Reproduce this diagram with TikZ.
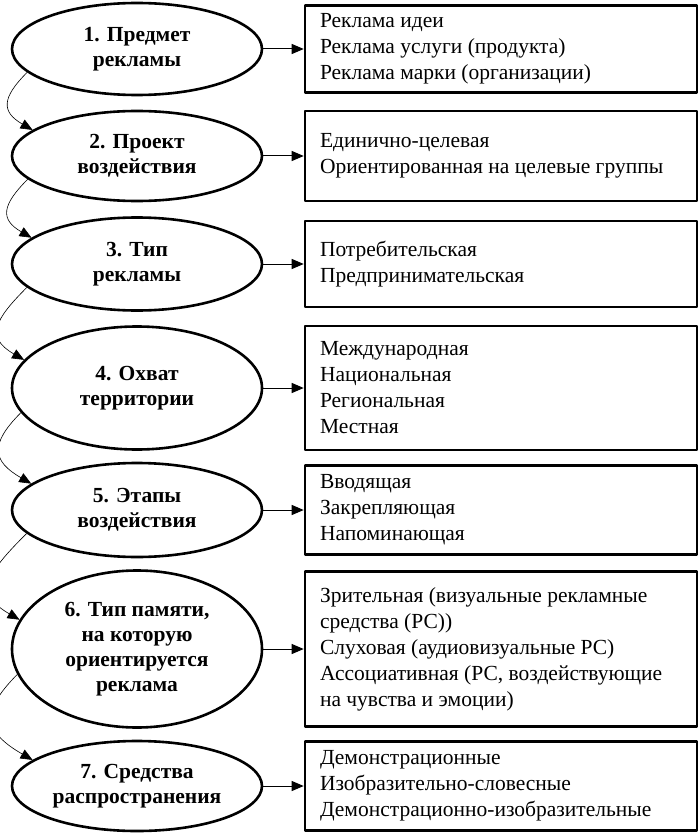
\documentclass[tikz,border=0pt]{standalone}
\usepackage{fontspec}
\setmainfont{Liberation Serif}
\usetikzlibrary{shapes.geometric,arrows.meta}
\tikzset{
  oval/.style={ellipse, draw, line width=2.6pt, minimum width=250pt, inner sep=0pt, align=center, font=\fontsize{21.5}{25}\selectfont\bfseries},
  kind/.style={draw, line width=2.6pt, minimum width=392pt, inner xsep=15pt, text width=362pt, align=flush left, font=\fontsize{21.5}{26}\selectfont},
  link/.style={line width=0.6pt}
}
\begin{document}
\begin{tikzpicture}[x=1pt, y=1pt, line join=round, >={Triangle[length=12pt,width=10pt]}]
\useasboundingbox (0,0) rectangle (700,-837);
\node[oval, minimum height=92pt] (e1) at (137,-49) {1. Предмет\\рекламы};
\node[oval, minimum height=90pt] (e2) at (137,-156) {2. Проект\\воздействия};
\node[oval, minimum height=93pt] (e3) at (137,-264) {3. Тип\\рекламы};
\node[oval, minimum height=123pt] (e4) at (137,-388) {4. Охват\\территории};
\node[oval, minimum height=94pt] (e5) at (137,-510) {5. Этапы\\воздействия};
\node[oval, minimum height=157pt] (e6) at (137,-649) {6. Тип памяти,\\на которую\\ориентируется\\реклама};
\node[oval, minimum height=90pt] (e7) at (137,-786) {7. Средства\\распространения};
\node[kind, minimum height=87pt] (b1) at (501,-49) {Реклама идеи\\Реклама услуги (продукта)\\Реклама марки (организации)};
\node[kind, minimum height=90pt] (b2) at (501,-156) {Единично-целевая\\Ориентированная на целевые группы};
\node[kind, minimum height=86pt] (b3) at (501,-264) {Потребительская\\Предпринимательская};
\node[kind, minimum height=124pt] (b4) at (501,-388) {Международная\\Национальная\\Региональная\\Местная};
\node[kind, minimum height=89pt] (b5) at (501,-510) {Вводящая\\Закрепляющая\\Напоминающая};
\node[kind, minimum height=155pt] (b6) at (501,-649) {Зрительная (визуальные рекламные\\средства (РС))\\Слуховая (аудиовизуальные РС)\\Ассоциативная (РС, воздействующие\\на чувства и эмоции)};
\node[kind, minimum height=89pt] (b7) at (501,-786) {Демонстрационные\\Изобразительно-словесные\\Демонстрационно-изобразительные};
\foreach \i in {1,...,7}\draw[->, line width=1pt] (e\i.east) -- (b\i.west);
\foreach \i/\j in {1/2,2/3,3/4,4/5,5/6,6/7}\draw[->, link] (e\i.192) to[out=225, in=150, looseness=1.6] (e\j.166);
\end{tikzpicture}
\end{document}
